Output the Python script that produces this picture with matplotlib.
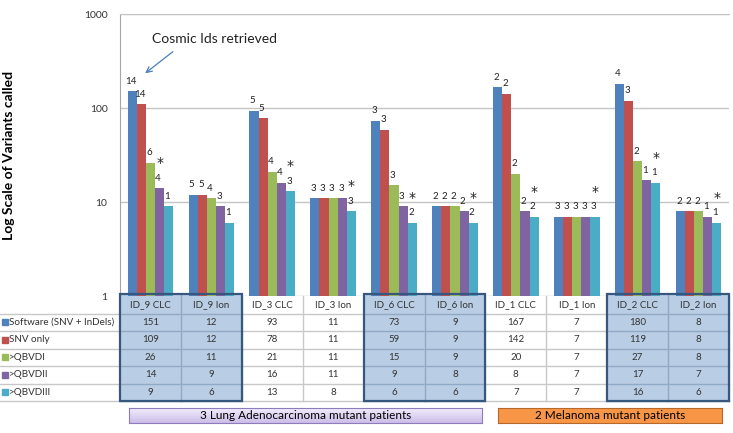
import numpy as np
import matplotlib
matplotlib.use('Agg')
import matplotlib.pyplot as plt
from matplotlib.patches import Rectangle
from matplotlib.transforms import blended_transform_factory

plt.rcParams['font.family'] = ['Lato', 'DejaVu Sans']

samples = ['ID_9 CLC', 'ID_9 Ion', 'ID_3 CLC', 'ID_3 Ion', 'ID_6 CLC',
           'ID_6 Ion', 'ID_1 CLC', 'ID_1 Ion', 'ID_2 CLC', 'ID_2 Ion']
series = ['Software (SNV + InDels)', 'SNV only', '>QBVDI', '>QBVDII', '>QBVDIII']
software = [151, 12, 93, 11, 73, 9, 167, 7, 180, 8]
snv_only = [109, 12, 78, 11, 59, 9, 142, 7, 119, 8]
qbvd1 = [26, 11, 21, 11, 15, 9, 20, 7, 27, 8]
qbvd2 = [14, 9, 16, 11, 9, 8, 8, 7, 17, 7]
qbvd3 = [9, 6, 13, 8, 6, 6, 7, 7, 16, 6]

# cosmic ids retrieved for each bar
cosmic_software = [14, 5, 5, 3, 3, 2, 2, 3, 4, 2]
cosmic_snv = [14, 5, 5, 3, 3, 2, 2, 3, 3, 2]
cosmic_q1 = [6, 4, 4, 3, 3, 2, 2, 3, 2, 2]
cosmic_q2 = [4, 3, 4, 3, 3, 2, 2, 3, 1, 1]
cosmic_q3 = [1, 1, 3, 3, 2, 2, 2, 3, 1, 1]
# series index of the bar that gets a star (-1 = none)
star_bar = [3, -1, 4, 4, 4, 4, 4, 4, 4, 4]

boxed = [0, 4, 8]  # first column of each highlighted pair
groups = ['3 Lung Adenocarcinoma mutant patients', '2 Melanoma mutant patients']

colors = ['#4F81BD', '#C0504D', '#9BBB59', '#8064A2', '#4BACC6']
values = [software, snv_only, qbvd1, qbvd2, qbvd3]
cosmic = [cosmic_software, cosmic_snv, cosmic_q1, cosmic_q2, cosmic_q3]

W, H = 733, 433
fig = plt.figure(figsize=(W / 100, H / 100), dpi=100)
ax = fig.add_axes([120 / W, 1 - 296 / H, 609 / W, 282 / H])

x = np.arange(len(samples))
bw = 0.15
for k in range(5):
    pos = x + (k - 2) * bw
    ax.bar(pos, values[k], bw, color=colors[k], zorder=3)
    for i in range(len(samples)):
        ax.annotate(str(cosmic[k][i]), (pos[i], values[k][i]), xytext=(-1, 4),
                    textcoords='offset points', ha='center', va='bottom',
                    fontsize=7, color='#222222')
        if star_bar[i] == k:
            ax.annotate('*', (pos[i], values[k][i]), xytext=(0, 13),
                        textcoords='offset points', ha='center', va='bottom',
                        fontsize=10, color='#222222', family='DejaVu Sans')

ax.set_yscale('log')
ax.set_ylim(1, 1000)
ax.set_xlim(-0.5, len(samples) - 0.5)
ax.set_yticks([1, 10, 100, 1000])
ax.set_yticklabels(['1', '10', '100', '1000'])
ax.yaxis.set_minor_locator(plt.NullLocator())
ax.set_xticks([])
ax.tick_params(axis='y', length=0, pad=9, labelsize=7.5, labelcolor='#333333')
ax.yaxis.grid(True, color='#c4c4c4', lw=1)
ax.set_axisbelow(True)
for s in ['right', 'bottom']:
    ax.spines[s].set_visible(False)
ax.spines['left'].set_color('#a6a6a6')
ax.spines['top'].set_color('#c4c4c4')

fig.text(15 / W, 1 - 155 / H, 'Log Scale of Variants called', rotation=90,
         ha='right', va='center', fontsize=10, fontweight='bold')

fig.text(215 / W, 1 - 39 / H, 'Cosmic Ids retrieved', ha='center', va='center',
         fontsize=10, color='#222222')
ax.annotate('', xy=(143, H - 75), xycoords='figure pixels',
            xytext=(175, H - 50), textcoords='figure pixels',
            arrowprops=dict(arrowstyle='->', color='#4a7ebb', lw=0.9))

# data table under the chart
tr = blended_transform_factory(ax.transData, fig.transFigure)
colw = 609 / len(samples)
left = -0.5 - 120 / colw
right = len(samples) - 0.5
row_edges = [296 + 17.5 * r for r in range(7)]


def fy(p):
    return 1 - p / H


for c in boxed:
    ax.add_patch(Rectangle((c - 0.5, fy(401)), 2, fy(294) - fy(401), transform=tr,
                           facecolor='#b9cde5', edgecolor='none', clip_on=False, zorder=1))

for r, yp in enumerate(row_edges):
    if r == 0:
        continue
    ax.plot([left, right], [fy(yp), fy(yp)], transform=tr, color='#c8c8c8',
            lw=1, clip_on=False, zorder=2)
    for c in boxed:
        ax.plot([c - 0.5, c + 1.5], [fy(yp), fy(yp)], transform=tr, color='#8fa9c9',
                lw=1, clip_on=False, zorder=2)

for i in range(len(samples) + 1):
    xe = i - 0.5
    ax.plot([xe, xe], [fy(296), fy(401)], transform=tr, color='#c8c8c8',
            lw=1, clip_on=False, zorder=2)
for c in boxed:
    ax.plot([c + 0.5, c + 0.5], [fy(294), fy(401)], transform=tr, color='#8fa9c9',
            lw=1, clip_on=False, zorder=2)
    ax.add_patch(Rectangle((c - 0.5, fy(401)), 2, fy(294) - fy(401), transform=tr,
                           facecolor='none', edgecolor='#36587f', lw=1.6,
                           clip_on=False, zorder=4))

for i, name in enumerate(samples):
    ax.text(i, fy(305), name, transform=tr, ha='center', va='center',
            fontsize=7, color='#333333')
for k in range(5):
    yc = fy((row_edges[k + 1] + row_edges[k + 2]) / 2)
    ax.plot([left + 5 / colw], [yc], transform=tr, marker='s', markersize=4.5,
            color=colors[k], clip_on=False, linestyle='none')
    ax.text(left + 9 / colw, yc, series[k], transform=tr, ha='left', va='center',
            fontsize=7.1, color='#333333')
    for i in range(len(samples)):
        ax.text(i, yc, str(values[k][i]), transform=tr, ha='center', va='center',
                fontsize=7, color='#333333')

# patient group banners
lung = fig.add_axes([129 / W, 1 - 423 / H, 353 / W, 15 / H])
grad = np.linspace(0, 1, 50).reshape(-1, 1)
top_c = np.array([0.95, 0.93, 0.99])
bot_c = np.array([0.80, 0.74, 0.91])
lung.imshow(top_c + grad[:, :, None] * (bot_c - top_c), aspect='auto',
            extent=[0, 1, 0, 1])
lung.set_xticks([])
lung.set_yticks([])
for s in lung.spines.values():
    s.set_color('#8d7bbd')
lung.text(0.5, 0.5, groups[0], ha='center', va='center', fontsize=8.5,
          transform=lung.transAxes)

mel = fig.add_axes([498 / W, 1 - 423 / H, 224 / W, 15 / H])
mel.set_facecolor('#F79646')
mel.set_xticks([])
mel.set_yticks([])
for s in mel.spines.values():
    s.set_color('#b7672a')
mel.text(0.5, 0.5, groups[1], ha='center', va='center', fontsize=8.5,
         transform=mel.transAxes)

fig.savefig('out.png', dpi=100)
